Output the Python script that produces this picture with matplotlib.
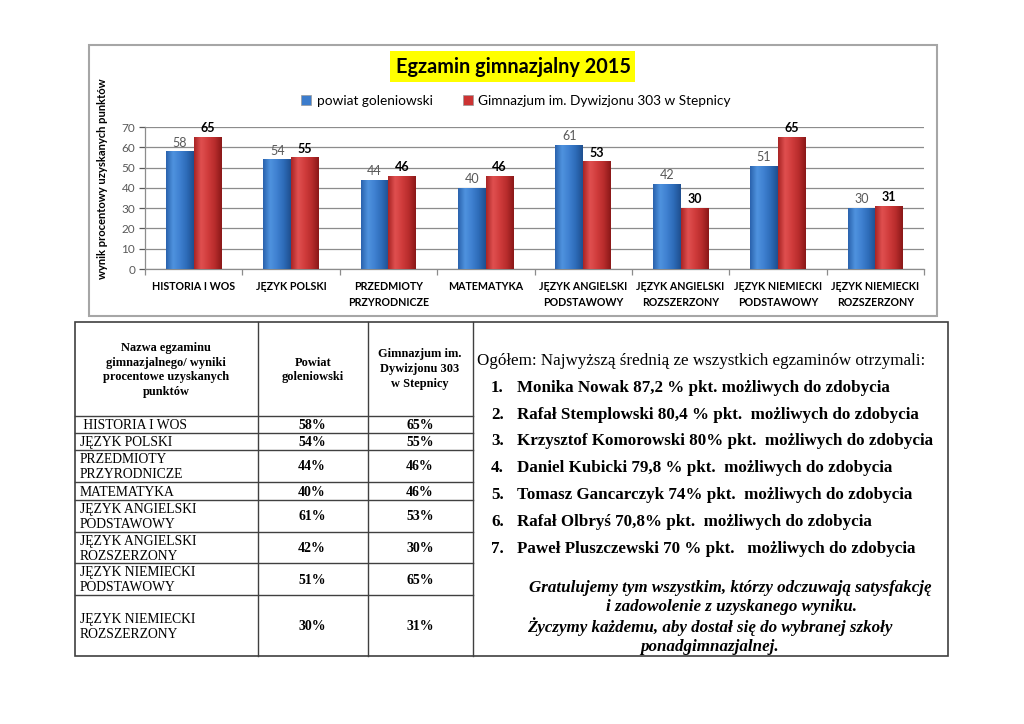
import numpy as np
import matplotlib
matplotlib.use("Agg")
import matplotlib.pyplot as plt
from matplotlib.patches import Rectangle
from matplotlib.colors import LinearSegmentedColormap

# ---------------- data ----------------
categories = ["HISTORIA I WOS", "JĘZYK POLSKI", "PRZEDMIOTY\nPRZYRODNICZE", "MATEMATYKA",
              "JĘZYK ANGIELSKI\nPODSTAWOWY", "JĘZYK ANGIELSKI\nROZSZERZONY",
              "JĘZYK NIEMIECKI\nPODSTAWOWY", "JĘZYK NIEMIECKI\nROZSZERZONY"]
powiat = [58, 54, 44, 40, 61, 42, 51, 30]
gimnazjum = [65, 55, 46, 46, 53, 30, 65, 31]
series_names = ["powiat goleniowski", "Gimnazjum im. Dywizjonu 303 w Stepnicy"]
yticks = [0, 10, 20, 30, 40, 50, 60, 70]
title = "Egzamin gimnazjalny 2015"
ylabel = "wynik procentowy uzyskanych punktów"

table_header = ["Nazwa egzaminu\ngimnazjalnego/ wyniki\nprocentowe uzyskanych\npunktów",
                "Powiat\ngoleniowski", "Gimnazjum im.\nDywizjonu 303\nw Stepnicy"]
intro = "Ogółem: Najwyższą średnią ze wszystkich egzaminów otrzymali:"
top_students = ["Monika Nowak 87,2 % pkt. możliwych do zdobycia",
                "Rafał Stemplowski 80,4 % pkt.  możliwych do zdobycia",
                "Krzysztof Komorowski 80% pkt.  możliwych do zdobycia",
                "Daniel Kubicki 79,8 % pkt.  możliwych do zdobycia",
                "Tomasz Gancarczyk 74% pkt.  możliwych do zdobycia",
                "Rafał Olbryś 70,8% pkt.  możliwych do zdobycia",
                "Paweł Pluszczewski 70 % pkt.   możliwych do zdobycia"]
closing = ["Gratulujemy tym wszystkim, którzy odczuwają satysfakcję",
           "i zadowolenie z uzyskanego wyniku.",
           "Życzymy każdemu, aby dostał się do wybranej szkoły",
           "ponadgimnazjalnej."]

SANS = ["Lato", "DejaVu Sans"]
SERIF = ["Liberation Serif", "DejaVu Serif"]

W, H = 1024, 724
fig = plt.figure(figsize=(W / 100, H / 100), dpi=100)
fig.patch.set_facecolor("white")

bg = fig.add_axes([0, 0, 1, 1])
bg.set_xlim(0, W)
bg.set_ylim(H, 0)
bg.axis("off")

renderer = fig.canvas.get_renderer()


def fit_w(t, target):
    w = t.get_window_extent(renderer).width
    t.set_fontsize(t.get_fontsize() * target / w)
    return t.get_fontsize()


# ---------------- chart frame + title ----------------
bg.add_patch(Rectangle((89, 45), 848, 271, fill=False, edgecolor="#a6a6a6", lw=1.5))
bg.add_patch(Rectangle((390, 51), 245, 31, facecolor="#ffff00", edgecolor="none"))
tt = bg.text(514, 67, title, ha="center", va="center", fontsize=16,
             fontweight="bold", family=SANS, color="black")
fit_w(tt, 235)

yl = bg.text(102, 179, ylabel, rotation=90, ha="center", va="center", fontsize=8,
             fontweight="bold", family=SANS, color="black")
h = yl.get_window_extent(renderer).height
yl.set_fontsize(yl.get_fontsize() * 202 / h)

# ---------------- bar chart ----------------
ax = fig.add_axes([145 / W, 1 - 269 / H, (924 - 145) / W, (269 - 127) / H])
ax.set_facecolor("none")
x = np.arange(len(categories))
bw = 0.285
blue_cm = LinearSegmentedColormap.from_list("b", ["#2a62ad", "#4f93df", "#3f80d0", "#2d6bb8", "#1f4f8f"])
red_cm = LinearSegmentedColormap.from_list("r", ["#a82424", "#e05050", "#d03c3c", "#b82c2c", "#8a1818"])
b1 = ax.bar(x - bw / 2, powiat, bw, color="#3c7ccc", zorder=3, label=series_names[0])
b2 = ax.bar(x + bw / 2, gimnazjum, bw, color="#cc3333", zorder=3, label=series_names[1])
grad = np.linspace(0, 1, 64).reshape(1, -1)
for bars, cm in ((b1, blue_cm), (b2, red_cm)):
    for p in bars:
        x0, y0 = p.get_x(), p.get_y()
        im = ax.imshow(grad, extent=[x0, x0 + p.get_width(), y0, y0 + p.get_height()],
                       aspect="auto", cmap=cm, zorder=3.5, interpolation="bicubic")
        im.set_clip_path(p)

ax.set_xlim(-0.5, len(categories) - 0.5)
ax.set_ylim(0, 70)
ax.set_yticks(yticks)
ax.yaxis.grid(True, color="#8c8c8c", lw=0.9, zorder=0)
ax.set_axisbelow(True)
for s in ("top", "right"):
    ax.spines[s].set_visible(False)
for s in ("left", "bottom"):
    ax.spines[s].set_color("#8c8c8c")
    ax.spines[s].set_linewidth(0.9)
ax.tick_params(axis="y", colors="#595959", labelsize=8.5, length=4, width=0.9,
               direction="out", pad=3)
for lab in ax.get_yticklabels():
    lab.set_family(SANS)
ax.set_xticks(x)
ax.set_xticklabels(categories, fontsize=7.5, fontweight="bold", family=SANS,
                   color="black", linespacing=1.45)
ax.tick_params(axis="x", which="major", length=0, pad=9)
ax.set_xticks(np.arange(-0.5, len(categories), 1.0), minor=True)
ax.tick_params(axis="x", which="minor", length=4, color="#8c8c8c", width=0.9, direction="out")

fig.canvas.draw()
xl = ax.get_xticklabels()
w0 = xl[0].get_window_extent(renderer).width
fs = 7.5 * 83 / w0
for lab in xl:
    lab.set_fontsize(fs)

ax.bar_label(b1, padding=2, fontsize=9, color="#595959", family=SANS)
ax.bar_label(b2, padding=2, fontsize=9, color="black", fontweight="bold", family=SANS)

leg = ax.legend(loc="center", bbox_to_anchor=(516 / W, 1 - 101 / H),
                bbox_transform=fig.transFigure, ncol=2, frameon=False,
                prop={"family": SANS, "size": 10}, handlelength=0.7,
                handleheight=0.7, handletextpad=0.4, columnspacing=2.2)
fig.canvas.draw()
lt = leg.get_texts()[0]
lw0 = lt.get_window_extent(renderer).width
for t in leg.get_texts():
    t.set_fontsize(10 * 116 / lw0)
for hnd in leg.legend_handles:
    hnd.set_edgecolor("#9a9a9a")
    hnd.set_linewidth(0.5)

# ---------------- table ----------------
L, R, T, B = 75, 948, 322, 656
col_x = [258, 368, 473]
row_y = [416, 433, 450, 482, 500, 532, 563, 595]
line_kw = dict(color="#404040", lw=1.0)
bg.add_patch(Rectangle((L, T), R - L, B - T, fill=False, edgecolor="#404040", lw=1.2))
for cx in col_x:
    bg.plot([cx, cx], [T, B], **line_kw)
for ry in row_y:
    bg.plot([L, col_x[2]], [ry, ry], **line_kw)

hdr_x = [166, 313, 420]
hdr_y = [370, 370, 369]
ht = []
for hx, hy, txt in zip(hdr_x, hdr_y, table_header):
    ht.append(bg.text(hx, hy, txt, ha="center", va="center", fontsize=9.5,
                      fontweight="bold", family=SERIF, linespacing=1.3))
hfs = fit_w(ht[0], 127)
for t in ht[1:]:
    t.set_fontsize(hfs)

edges = [416] + row_y[1:] + [B]
rt = []
for i, cat in enumerate(categories):
    cy = (edges[i] + edges[i + 1]) / 2 + 1
    lbl = (" " + cat) if i == 0 else cat
    rt.append(bg.text(80, cy, lbl, ha="left", va="center", fontsize=10,
                      family=SERIF, linespacing=1.2))
    bg.text(312, cy, f"{powiat[i]}%", ha="center", va="center", fontsize=10,
            fontweight="bold", family=SERIF)
    bg.text(420, cy, f"{gimnazjum[i]}%", ha="center", va="center", fontsize=10,
            fontweight="bold", family=SERIF)
rfs = fit_w(rt[0], 107)
for t in rt[1:]:
    t.set_fontsize(rfs)

# ---------------- right text box ----------------
it = bg.text(477, 361, intro, ha="left", va="center", fontsize=12, family=SERIF)
fit_w(it, 448)
name_y = [388, 415, 441, 468, 495, 522, 549]
nt = []
num_t = []
for i, (ny, name) in enumerate(zip(name_y, top_students)):
    num_t.append(bg.text(491, ny, f"{i + 1}.", ha="left", va="center", fontsize=12,
                         fontweight="bold", family=SERIF))
    nt.append(bg.text(517, ny, name, ha="left", va="center", fontsize=12,
                      fontweight="bold", family=SERIF))
nfs = fit_w(nt[0], 371)
for t in nt[1:] + num_t:
    t.set_fontsize(nfs)

cl_x = [730, 732, 710, 710]
cl_y = [588, 607, 627, 647]
ct = []
for cx, cy, txt in zip(cl_x, cl_y, closing):
    ct.append(bg.text(cx, cy, txt, ha="center", va="center", fontsize=12,
                      fontweight="bold", fontstyle="italic", family=SERIF))
cfs = fit_w(ct[0], 403)
for t in ct[1:]:
    t.set_fontsize(cfs)

fig.savefig("out.png", dpi=100, facecolor="white")
